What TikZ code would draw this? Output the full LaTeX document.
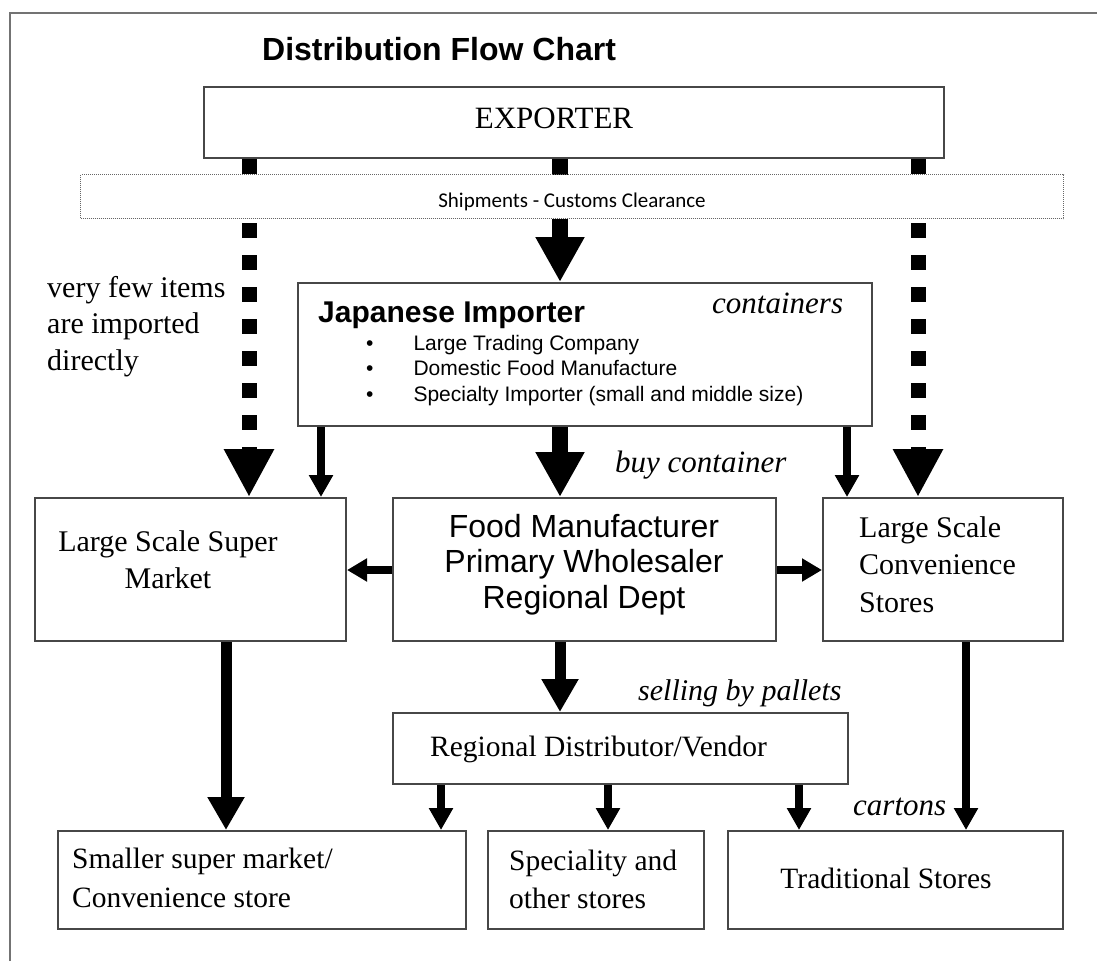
\documentclass[tikz,border=0pt]{standalone}
\usepackage{fontspec}
\setmainfont{Liberation Serif}
\newfontfamily\arialf{Liberation Sans}
\newfontfamily\calibrif{Carlito}
\usetikzlibrary{arrows.meta}
\newcommand\fsz[2]{\fontsize{#1pt}{#2pt}\selectfont}
\tikzset{
  box/.style={draw=black!72, line width=2pt, fill=white, anchor=north west, inner sep=0pt},
  shipbox/.style={draw=black!60, line width=1.1pt, dash pattern=on 1pt off 1pt, fill=white, anchor=north west, inner sep=0pt},
  frame/.style={draw=black!55, line width=2pt},
  txt/.style={inner sep=0pt, text=black},
  bigarrow/.style={line width=16pt, -{Triangle[width=46pt,length=45pt]}},
  dasharrow/.style={line width=15pt, dash pattern=on 15pt off 17pt, -{Triangle[width=47pt,length=48pt]}},
  midarrow/.style={line width=11pt, -{Triangle[width=35pt,length=33pt]}},
  thinarrow/.style={line width=8pt, -{Triangle[width=23pt,length=22pt]}},
  sidearrow/.style={line width=8pt, -{Triangle[width=22pt,length=20pt]}},
}
\begin{document}
\begin{tikzpicture}[x=1pt,y=-1pt]
\useasboundingbox (0,0) rectangle (1097,961);
% outer frame
\draw[frame] (10,961) -- (10,13) -- (1097,13);

% boxes
\node[box, minimum width=740pt, minimum height=71pt] (exp) at (203,86) {};
\node[box, minimum width=574pt, minimum height=143pt] (imp) at (297,282) {};
\node[box, minimum width=311pt, minimum height=143pt] (sup) at (34,497) {};
\node[box, minimum width=383pt, minimum height=143pt] (food) at (392,497) {};
\node[box, minimum width=240pt, minimum height=143pt] (conv) at (822,497) {};
\node[box, minimum width=455pt, minimum height=71pt] (reg) at (392,712) {};
\node[box, minimum width=408pt, minimum height=98pt] (small) at (57,830) {};
\node[box, minimum width=216pt, minimum height=98pt] (spec) at (487,830) {};
\node[box, minimum width=335pt, minimum height=98pt] (trad) at (727,830) {};

% connectors
\draw[bigarrow] (560,0 |- exp.south) -- (560,0 |- imp.north);
\draw[dasharrow] (249,0 |- exp.south) -- (249,0 |- sup.north);
\draw[dasharrow] (918,0 |- exp.south) -- (918,0 |- conv.north);
\draw[thinarrow] (321,0 |- imp.south) -- (321,0 |- sup.north);
\draw[bigarrow] (560,0 |- imp.south) -- (560,0 |- food.north);
\draw[thinarrow] (847,0 |- imp.south) -- (847,0 |- conv.north);
\draw[sidearrow] (food.west |- 0,570) -- (sup.east |- 0,570);
\draw[sidearrow] (food.east |- 0,570) -- (conv.west |- 0,570);
\draw[midarrow] (560,0 |- food.south) -- (560,0 |- reg.north);
\draw[midarrow] (226,0 |- sup.south) -- (226,0 |- small.north);
\draw[thinarrow] (966,0 |- conv.south) -- (966,0 |- trad.north);
\draw[thinarrow] (441,0 |- reg.south) -- (441,0 |- small.north);
\draw[thinarrow] (608,0 |- reg.south) -- (608,0 |- spec.north);
\draw[thinarrow] (799,0 |- reg.south) -- (799,0 |- trad.north);

% shipments band drawn over the connectors
\node[shipbox, minimum width=983pt, minimum height=44pt] (ship) at (80,174) {};

% texts
\node[txt, anchor=base west, font=\arialf\bfseries\fsz{32}{32}] (title) at (262,60) {Distribution Flow Chart};
\node[txt, anchor=base, font=\fsz{31}{31}] (exptext) at (554,128) {EXPORTER};
\node[txt, anchor=base, font=\calibrif\fsz{21}{21}] (shiptext) at (572,207) {Shipments - Customs Clearance};
\node[txt, anchor=base west, font=\fsz{30}{36.5}] (fewtext) at (47,297)
  {\begin{tabular}[t]{@{}l@{}}very few items\\are imported\\directly\end{tabular}};
\node[txt, anchor=base west, font=\arialf\bfseries\fsz{30}{30}] (imptitle) at (318,322) {Japanese Importer};
\node[txt, anchor=base west, font=\arialf\fsz{21}{25.5}] (impitems) at (366,350)
  {\begin{tabular}[t]{@{}l@{\hspace{40pt}}l@{}}•&Large Trading Company\\•&Domestic Food Manufacture\\•&Specialty Importer (small and middle size)\end{tabular}};
\node[txt, anchor=base west, font=\itshape\fsz{31}{31}] (conttext) at (712,313) {containers};
\node[txt, anchor=base west, font=\itshape\fsz{31}{31}] (buytext) at (615,472) {buy container};
\node[txt, anchor=base, font=\fsz{30}{37}] (suptext) at (168,551)
  {\begin{tabular}[t]{@{}c@{}}Large Scale Super\\Market\end{tabular}};
\node[txt, anchor=base, font=\arialf\fsz{32}{35.7}] (foodtext) at (584,537)
  {\begin{tabular}[t]{@{}c@{}}Food Manufacturer\\Primary Wholesaler\\Regional Dept\end{tabular}};
\node[txt, anchor=base west, font=\fsz{30}{37.5}] (convtext) at (859,537)
  {\begin{tabular}[t]{@{}l@{}}Large Scale\\Convenience\\Stores\end{tabular}};
\node[txt, anchor=base west, font=\itshape\fsz{30}{30}] (selltext) at (638,700) {selling by pallets};
\node[txt, anchor=base west, font=\fsz{29.5}{29.5}] (regtext) at (430,756) {Regional Distributor/Vendor};
\node[txt, anchor=base west, font=\itshape\fsz{31}{31}] (cartext) at (853,815) {cartons};
\node[txt, anchor=base west, font=\fsz{29.5}{39}] (smalltext) at (72,868)
  {\begin{tabular}[t]{@{}l@{}}Smaller super market/\\Convenience store\end{tabular}};
\node[txt, anchor=base west, font=\fsz{29.5}{38}] (spectext) at (509,870)
  {\begin{tabular}[t]{@{}l@{}}Speciality and\\other stores\end{tabular}};
\node[txt, anchor=base, font=\fsz{29.5}{29.5}] (tradtext) at (886,888) {Traditional Stores};
\end{tikzpicture}
\end{document}
